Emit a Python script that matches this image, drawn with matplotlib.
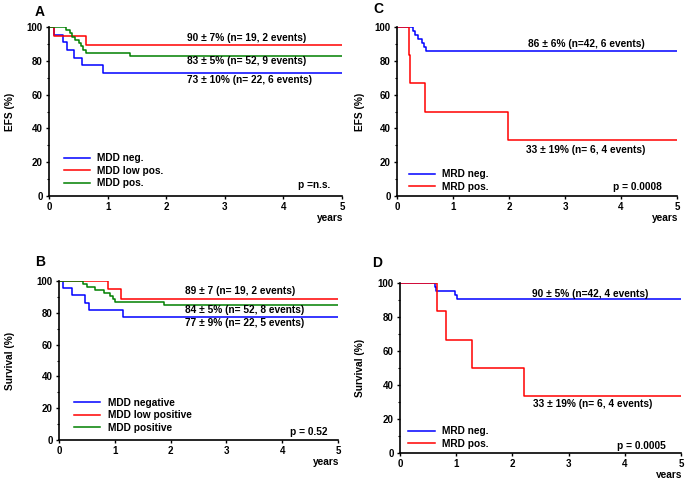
import numpy as np
import matplotlib.pyplot as plt
from matplotlib.ticker import MultipleLocator

plt.rcParams['font.family'] = ['Liberation Sans', 'DejaVu Sans']
plt.rcParams['font.weight'] = 'bold'

BLUE = '#0000ff'
RED = '#ff0000'
GREEN = '#008000'
FS = 7.3

# Kaplan-Meier step curves: event times (years) and survival (%) after each step
# Panel A - EFS by MDD
a_neg_t = [0.08, 0.24, 0.30, 0.42, 0.57, 0.93]
a_neg_s = [95.5, 90.9, 86.4, 81.8, 77.3, 72.7]
a_low_t = [0.09, 0.63]
a_low_s = [94.7, 89.5]
a_pos_t = [0.29, 0.35, 0.39, 0.45, 0.51, 0.55, 0.58, 0.63, 1.38]
a_pos_s = [98.1, 96.2, 94.2, 92.3, 90.4, 88.5, 86.5, 84.6, 82.7]

# Panel B - survival by MDD
b_neg_t = [0.08, 0.24, 0.47, 0.53, 1.15]
b_neg_s = [95.5, 90.9, 86.4, 81.8, 77.3]
b_low_t = [0.87, 1.11]
b_low_s = [94.7, 88.9]
b_pos_t = [0.43, 0.51, 0.65, 0.81, 0.91, 0.96, 1.01, 1.89]
b_pos_s = [98.1, 96.2, 94.2, 92.3, 90.4, 88.5, 86.5, 84.6]

# Panel C - EFS by MRD
c_neg_t = [0.29, 0.33, 0.38, 0.45, 0.49, 0.52]
c_neg_s = [97.6, 95.2, 92.9, 90.5, 88.1, 85.7]
c_pos_t = [0.21, 0.23, 0.50, 1.98]
c_pos_s = [83.3, 66.7, 50.0, 33.3]

# Panel D - survival by MRD
d_neg_t = [0.62, 0.64, 0.97, 1.02]
d_neg_s = [97.6, 95.2, 92.9, 90.5]
d_pos_t = [0.65, 0.82, 1.29, 2.21]
d_pos_s = [83.3, 66.7, 50.0, 33.3]


def km(ax, t, s, color, label):
    x = [0] + list(t) + [5]
    y = [100] + list(s) + [s[-1]]
    ax.step(x, y, where='post', color=color, lw=1.1, label=label)


def style(ax, ylabel, ylab_x, letter, let_xy, pval, p_xy, leg_xy):
    ax.set_xlim(0, 5)
    ax.set_ylim(0, 100)
    ax.set_xticks([0, 1, 2, 3, 4, 5])
    ax.set_yticks([0, 20, 40, 60, 80, 100])
    ax.yaxis.set_minor_locator(MultipleLocator(10))
    for sp in ['top', 'right']:
        ax.spines[sp].set_visible(False)
    for sp in ['left', 'bottom']:
        ax.spines[sp].set_linewidth(1.2)
    ax.tick_params(axis='both', which='major', labelsize=7, length=2.5, width=1, pad=2)
    ax.tick_params(axis='y', which='minor', length=1.8, width=0.8)
    ax.set_ylabel(ylabel, fontsize=FS, fontweight='bold')
    ax.yaxis.set_label_coords(ylab_x, 0.5)
    ax.text(let_xy[0], let_xy[1], letter, transform=ax.transAxes, fontsize=10,
            fontweight='bold', ha='left', va='center')
    ax.annotate('years', xy=(1, 0), xycoords='axes fraction', xytext=(1, -15.5),
                textcoords='offset points', fontsize=FS, ha='right', va='center')
    ax.text(p_xy[0], p_xy[1], pval, transform=ax.transAxes, fontsize=FS,
            ha='center', va='center')
    leg = ax.legend(loc='lower left', bbox_to_anchor=leg_xy, frameon=False,
                    fontsize=FS, handlelength=2.6, handletextpad=0.7, labelspacing=0.25,
                    borderpad=0, borderaxespad=0)
    for txt in leg.get_texts():
        txt.set_fontweight('bold')


def note(ax, x, y, s):
    ax.text(x, y, s, fontsize=FS, ha='center', va='center')


fig = plt.figure(figsize=(6.85, 4.78), dpi=100)

axA = fig.add_axes([49 / 685, 1 - 196 / 478, 293 / 685, 169 / 478])
km(axA, a_neg_t, a_neg_s, BLUE, 'MDD neg.')
km(axA, a_low_t, a_low_s, RED, 'MDD low pos.')
km(axA, a_pos_t, a_pos_s, GREEN, 'MDD pos.')
style(axA, 'EFS (%)', -0.116, 'A', (-0.05, 1.09), 'p =n.s.', (0.905, 0.065), (0.05, 0.045))
note(axA, 3.38, 93.5, '90 ± 7% (n= 19, 2 events)')
note(axA, 3.38, 79.9, '83 ± 5% (n= 52, 9 events)')
note(axA, 3.43, 68.6, '73 ± 10% (n= 22, 6 events)')

axB = fig.add_axes([59 / 685, 1 - 440 / 478, 279 / 685, 159 / 478])
km(axB, b_neg_t, b_neg_s, BLUE, 'MDD negative')
km(axB, b_low_t, b_low_s, RED, 'MDD low positive')
km(axB, b_pos_t, b_pos_s, GREEN, 'MDD positive')
style(axB, 'Survival (%)', -0.158, 'B', (-0.086, 1.12), 'p = 0.52', (0.896, 0.05), (0.054, 0.044))
note(axB, 3.24, 93.7, '89 ± 7 (n= 19, 2 events)')
note(axB, 3.32, 81.8, '84 ± 5% (n= 52, 8 events)')
note(axB, 3.32, 73.6, '77 ± 9% (n= 22, 5 events)')

axC = fig.add_axes([397 / 685, 1 - 196 / 478, 280 / 685, 169 / 478])
km(axC, c_neg_t, c_neg_s, BLUE, 'MRD neg.')
km(axC, c_pos_t, c_pos_s, RED, 'MRD pos.')
style(axC, 'EFS (%)', -0.114, 'C', (-0.086, 1.107), 'p = 0.0008', (0.857, 0.053), (0.043, 0.024))
note(axC, 3.39, 89.9, '86 ± 6% (n=42, 6 events)')
note(axC, 3.37, 27.2, '33 ± 19% (n= 6, 4 events)')

axD = fig.add_axes([400 / 685, 1 - 453 / 478, 281 / 685, 170 / 478])
km(axD, d_neg_t, d_neg_s, BLUE, 'MRD neg.')
km(axD, d_pos_t, d_pos_s, RED, 'MRD pos.')
style(axD, 'Survival (%)', -0.125, 'D', (-0.1, 1.12), 'p = 0.0005', (0.86, 0.04), (0.03, 0.024))
note(axD, 3.38, 93.5, '90 ± 5% (n=42, 4 events)')
note(axD, 3.43, 28.8, '33 ± 19% (n= 6, 4 events)')

fig.savefig('out.png', dpi=100)
